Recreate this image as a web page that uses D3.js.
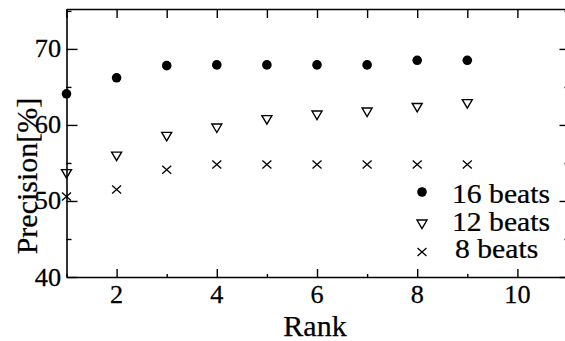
<!DOCTYPE html>
<html><head><meta charset="utf-8">
<script src="https://cdn.jsdelivr.net/npm/d3@7"></script>
<style>body{margin:0;background:#fff}svg{display:block}
text{font-family:"Liberation Serif","DejaVu Serif",serif;fill:#000;stroke:#000;stroke-width:0.25px}</style>
</head><body>
<script>
const ranks = [1,2,3,4,5,6,7,8,9];
const beats16 = [64.1,66.2,67.8,67.9,67.9,67.9,67.9,68.5,68.5];
const beats12 = [53.6,55.9,58.5,59.6,60.7,61.3,61.7,62.3,62.8];
const beats8  = [50.6,51.5,54.1,54.8,54.8,54.8,54.8,54.8,54.8];
const xTickLabels = [2,4,6,8,10];
const yTickLabels = [40,50,60,70];
const legendLabels = ["16 beats","12 beats","8 beats"];

const W=565,H=341;
const svg=d3.select("body").append("svg").attr("width",W).attr("height",H);
const x=d3.scaleLinear().domain([1,11]).range([66.5,567.5]);
const y=d3.scaleLinear().domain([40,75.25]).range([277,9]);

const axB=svg.append("g").attr("transform",`translate(0,${y(40)})`).call(d3.axisBottom(x).tickValues(d3.range(1,12)).tickSize(0).tickFormat(""));
const axT=svg.append("g").attr("transform",`translate(0,${y(75.25)})`).call(d3.axisTop(x).tickValues(d3.range(1,12)).tickSize(0).tickFormat(""));
const axL=svg.append("g").attr("transform",`translate(${x(1)},0)`).call(d3.axisLeft(y).tickValues(d3.range(40,76,5)).tickSize(0).tickFormat(""));
const axR=svg.append("g").attr("transform",`translate(${x(11)},0)`).call(d3.axisRight(y).tickValues(d3.range(40,76,5)).tickSize(0).tickFormat(""));
[axB,axT,axL,axR].forEach(a=>{a.select(".domain").attr("stroke","#000").attr("stroke-width",1.6);});
axB.selectAll(".tick line").attr("y2",d=>d%2===0?-8:-3).attr("stroke","#000").attr("stroke-width",1.4);
axT.selectAll(".tick line").attr("y2",9).attr("stroke","#000").attr("stroke-width",1.4);
axL.selectAll(".tick line").attr("x2",d=>d%10===0?11:5).attr("stroke","#000").attr("stroke-width",1.4);
axR.selectAll(".tick line").attr("x2",d=>d%10===0?-8:-3).attr("stroke","#000").attr("stroke-width",1.4);

svg.append("g").selectAll("text").data(xTickLabels).join("text")
 .attr("transform",d=>`translate(${x(d)},303) scale(1.05,1)`)
 .attr("text-anchor","middle").attr("font-size",25).text(d=>d);
svg.append("g").selectAll("text").data(yTickLabels).join("text")
 .attr("transform",d=>`translate(61,${y(d)+8.5}) scale(1.05,1)`)
 .attr("text-anchor","end").attr("font-size",25).text(d=>d);

svg.append("text").attr("transform",`translate(315,336)`)
 .attr("text-anchor","middle").attr("font-size",30).text("Rank");
svg.append("text").attr("transform",`translate(37,176) rotate(-90)`)
 .attr("text-anchor","middle").attr("font-size",30).text("Precision[%]");

const sym = {
 dot:(sel)=>sel.append("circle").attr("r",4.8).attr("fill","#000"),
 tri:(sel)=>sel.append("path").attr("d","M-5,-4L5,-4L0,4.5Z").attr("fill","none").attr("stroke","#000").attr("stroke-width",1.4),
 cross:(sel)=>sel.append("path").attr("d","M-4.5,-4L4.5,4M-4.5,4L4.5,-4").attr("fill","none").attr("stroke","#000").attr("stroke-width",1.3)
};
const series=[{v:beats16,s:"dot"},{v:beats12,s:"tri"},{v:beats8,s:"cross"}];
series.forEach(se=>{
 ranks.forEach((r,i)=>{
  const gg=svg.append("g").attr("transform",`translate(${x(r)},${y(se.v[i])})`);
  sym[se.s](gg);
 });
});

const legSymY=[192,224,252], legTextY=[203,231,258], legTextX=[452,452,455];
legendLabels.forEach((t,i)=>{
 const gg=svg.append("g").attr("transform",`translate(422,${legSymY[i]})`);
 sym[series[i].s](gg);
 svg.append("text").attr("transform",`translate(${legTextX[i]},${legTextY[i]}) scale(1.12,1)`)
  .attr("font-size",26.5).text(t);
});
</script>
</body></html>
